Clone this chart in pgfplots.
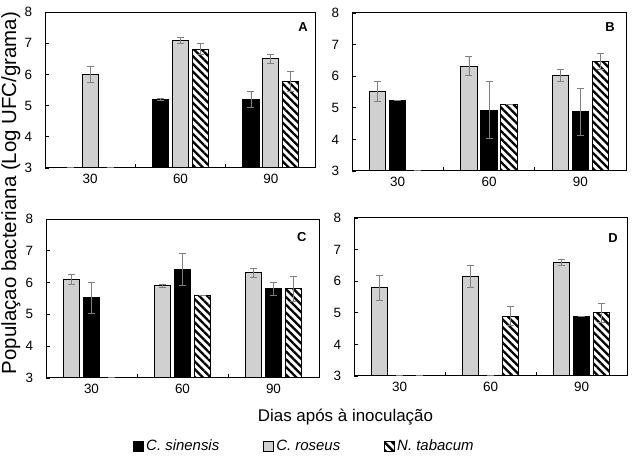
\documentclass[border=0pt]{standalone}
\usepackage{pgfplots}
\pgfplotsset{compat=1.18}
\usepackage{fontspec}
\setmainfont{Liberation Sans}
\usetikzlibrary{patterns,patterns.meta}

\tikzset{
  blk/.style={fill=black, draw=black, line width=1bp},
  dot/.style={fill=gray!30, draw=black, line width=1bp,
    postaction={pattern={Dots[distance=2bp,radius=0.45bp]}, pattern color=black!55, draw=black, line width=1bp}},
  hat/.style={fill=white, draw=black, line width=1bp,
    postaction={pattern={Lines[angle=-45,distance=5.5bp,line width=2.3bp]}, pattern color=black, draw=black, line width=1bp}},
  letter/.style={font=\bfseries\fontsize{13}{14}\selectfont},
}
\pgfplotsset{
  panel/.style={
    scale only axis,
    ybar, bar width=0.18, bar shift=0,
    xmin=0.5, xmax=3.5, ymin=3, ymax=8,
    ytick={3,4,5,6,7,8},
    xtick={1.5,2.5}, xticklabels={},
    extra x ticks={1,2,3}, extra x tick labels={30,60,90},
    extra x tick style={major tick length=0pt},
    tick pos=left, tick align=inside, major tick length=4bp,
    tick style={black, line width=0.8bp},
    axis line style={line width=1bp},
    /pgf/number format/assume math mode=true,
    tick label style={font=\fontsize{13.5}{15}\selectfont},
    xticklabel style={yshift=-3bp},
    yticklabel style={xshift=-9.5bp},
  },
  errb/.style={error bars/.cd, y dir=both, y explicit,
    error bar style={gray, line width=0.8bp},
    error mark options={rotate=90, mark size=3.5bp, line width=0.8bp, draw=gray}},
}

\begin{document}
\begin{tikzpicture}
\useasboundingbox (0,0) rectangle (639bp,470bp);

% Panel A
\begin{axis}[panel, at={(45bp,302bp)}, anchor=south west, width=271bp, height=156bp,
  ylabel={Populaçao bacteriana (Log UFC/grama)},
  ylabel style={at={(axis description cs:-0.107,-0.160)}, anchor=base,
    font=\fontsize{20.5}{22}\selectfont}]
\addplot[blk, errb] coordinates {(0.78,3.03) +- (0,0) (1.78,5.2) +- (0,0.02) (2.78,5.2) +- (0,0.27)};
\addplot[dot, errb] coordinates {(1,6.0) +- (0,0.25) (2,7.1) +- (0,0.1) (3,6.5) +- (0,0.14)};
\addplot[hat, errb] coordinates {(1.22,3.03) +- (0,0) (2.22,6.81) +- (0,0.18) (3.22,5.77) +- (0,0.32)};
\node[letter] at (rel axis cs:0.952,0.904) {A};
\end{axis}

% Panel B
\begin{axis}[panel, at={(352bp,299bp)}, anchor=south west, width=274bp, height=158bp]
\addplot[dot, errb] coordinates {(0.78,5.52) +- (0,0.31) (1.78,6.32) +- (0,0.3) (2.78,6.02) +- (0,0.19)};
\addplot[blk, errb] coordinates {(1,5.22) +- (0,0) (2,4.93) +- (0,0.9) (3,4.87) +- (0,0.73)};
\addplot[hat, errb] coordinates {(1.22,3.03) +- (0,0) (2.22,5.11) +- (0,0) (3.22,6.47) +- (0,0.26)};
\node[letter] at (rel axis cs:0.942,0.911) {B};
\end{axis}

% Panel C
\begin{axis}[panel, at={(46bp,92bp)}, anchor=south west, width=273bp, height=159bp,
  xlabel={Dias após à inoculação},
  xlabel style={at={(axis description cs:1.097,-0.275)}, anchor=base,
    font=\fontsize{17}{19}\selectfont},
  legend image code/.code={\draw[#1, line width=0.8bp] (0bp,-5bp) rectangle (10bp,5bp);},
  legend style={at={(axis description cs:0.947,-0.428)}, anchor=center,
    legend columns=3, draw=none, fill=none,
    font=\itshape\fontsize{15}{16}\selectfont,
    /tikz/every even column/.append style={column sep=42bp}},
  legend cell align=left]
\addlegendimage{blk}
\addlegendimage{dot}
\addlegendimage{hat}
\addplot[dot, errb] coordinates {(0.78,6.10) +- (0,0.16) (1.78,5.90) +- (0,0.04) (2.78,6.31) +- (0,0.15)};
\addplot[blk, errb] coordinates {(1,5.52) +- (0,0.5) (2,6.41) +- (0,0.5) (3,5.81) +- (0,0.2)};
\addplot[hat, errb] coordinates {(1.22,3.03) +- (0,0) (2.22,5.61) +- (0,0) (3.22,5.81) +- (0,0.39)};
\legend{C. sinensis, C. roseus, N. tabacum}
\node[letter] at (rel axis cs:0.937,0.889) {C};
\end{axis}

% Panel D
\begin{axis}[panel, at={(354bp,94bp)}, anchor=south west, width=273bp, height=158bp]
\addplot[dot, errb] coordinates {(0.78,5.79) +- (0,0.4) (1.78,6.15) +- (0,0.34) (2.78,6.6) +- (0,0.1)};
\addplot[blk, errb] coordinates {(1,3.03) +- (0,0) (2,3.03) +- (0,0) (3,4.89) +- (0,0)};
\addplot[hat, errb] coordinates {(1.22,3.03) +- (0,0) (2.22,4.89) +- (0,0.3) (3.22,5.01) +- (0,0.3)};
\node[letter] at (rel axis cs:0.949,0.875) {D};
\end{axis}
\end{tikzpicture}
\end{document}
